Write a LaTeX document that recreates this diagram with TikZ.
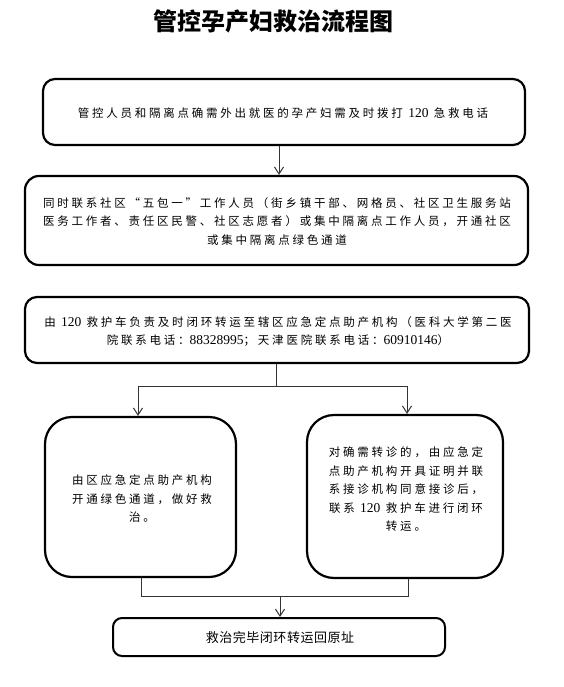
\documentclass[tikz,border=0pt]{standalone}
\usepackage{fontspec}
\setmainfont{Liberation Serif}
\newfontfamily\cjkf[LetterSpace=24]{Noto Sans CJK SC}
\newfontfamily\cjkg[LetterSpace=4]{Noto Sans CJK SC}
\newfontfamily\cjkt{Noto Sans CJK SC}
\newcommand\nm[1]{{\rmfamily\fontsize{13.5}{18.5}\selectfont #1}}
\usetikzlibrary{arrows.meta}
\tikzset{
  box/.style={draw=black, line width=2.2pt, rectangle, inner sep=0pt, align=center},
  txt/.style={align=center, inner sep=0pt, font=\cjkf\fontsize{11.5}{18.5}\selectfont},
  conn/.style={draw=black!80, line width=1pt},
  arr/.style={conn, -{Straight Barb[length=7pt,width=9pt,line width=1pt]}}
}
\begin{document}
\begin{tikzpicture}[x=1pt,y=-1pt]
\useasboundingbox (0,0) rectangle (564,687);
\node[font=\cjkt\bfseries\fontsize{24}{28}\selectfont, inner sep=0pt] (title) at (273.5,21) {管控孕产妇救治流程图};

\node[box, rounded corners=12pt, minimum width=482pt, minimum height=66pt] (b1) at (284,112) {};
\node[txt] (t1) at (283,113) {管控人员和隔离点确需外出就医的孕产妇需及时拨打 \nm{120} 急救电话};

\node[box, rounded corners=14pt, minimum width=503pt, minimum height=89pt] (b2) at (276.5,220.5) {};
\node[txt] (t2) at (277,221.5) {同时联系社区“五包一”工作人员（街乡镇干部、网格员、社区卫生服务站\\医务工作者、责任区民警、社区志愿者）或集中隔离点工作人员，开通社区\\或集中隔离点绿色通道};

\node[box, rounded corners=12pt, minimum width=504pt, minimum height=66pt] (b3) at (277,330) {};
\node[txt] (t3) at (278,331.5) {由 \nm{120} 救护车负责及时闭环转运至辖区应急定点助产机构（医科大学第二医\\院联系电话：\nm{88328995}；天津医院联系电话：\nm{60910146}）};

\node[box, rounded corners=27pt, minimum width=191pt, minimum height=160pt] (b4) at (140.5,497) {};
\node[txt] (t4) at (142,499) {由区应急定点助产机构\\开通绿色通道，做好救\\治。};

\node[box, rounded corners=27pt, minimum width=196pt, minimum height=163pt] (b5) at (405,496.5) {};
\node[txt] (t5) at (406,489.5) {对确需转诊的，由应急定\\点助产机构开具证明并联\\系接诊机构同意接诊后，\\联系 \nm{120} 救护车进行闭环\\转运。};

\node[box, line width=2pt, rounded corners=9pt, minimum width=332pt, minimum height=38pt] (b6) at (279,637) {};
\node[font=\cjkg\fontsize{13}{16}\selectfont, inner sep=0pt] (t6) at (280,638) {救治完毕闭环转运回原址};

% connectors
\coordinate (a1) at (279,0);
\draw[arr] (b1.south -| a1) -- (b2.north -| a1);

\coordinate (j1) at (276,386);
\coordinate (jl) at (138,386);
\coordinate (jr) at (407,386);
\draw[conn] (b3.south -| j1) -- (j1);
\draw[conn] (jl) -- (jr);
\draw[arr] (jl) -- (b4.north -| jl);
\draw[arr] (jr) -- (b5.north -| jr);

\coordinate (kl) at (141,596);
\coordinate (kr) at (408,596);
\coordinate (km) at (280,596);
\draw[conn] (b4.south -| kl) -- (kl) -- (kr) -- (b5.south -| kr);
\draw[arr] (km) -- (b6.north -| km);
\end{tikzpicture}
\end{document}
